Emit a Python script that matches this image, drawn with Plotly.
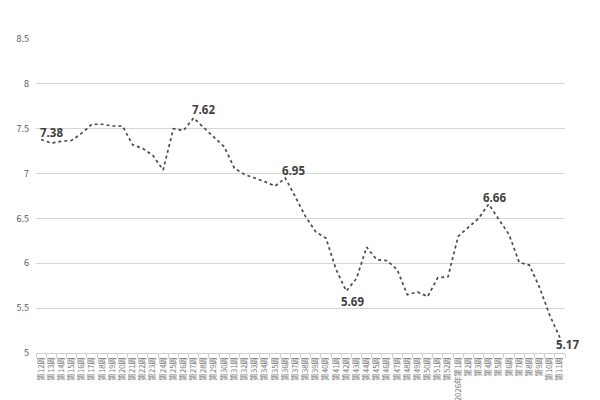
import plotly.graph_objects as go

weeks = [f"第{i}周" for i in range(12, 53)] + ["2026年第1周"] + [f"第{i}周" for i in range(2, 12)]
prices = [7.38, 7.34, 7.36, 7.37, 7.45, 7.55, 7.55, 7.53, 7.53, 7.32,
          7.28, 7.20, 7.04, 7.50, 7.48, 7.62, 7.51, 7.40, 7.30, 7.06,
          6.99, 6.95, 6.91, 6.86, 6.95, 6.74, 6.52, 6.35, 6.28, 5.93,
          5.69, 5.83, 6.18, 6.04, 6.03, 5.93, 5.65, 5.68, 5.63, 5.84,
          5.85, 6.30, 6.40, 6.50, 6.66, 6.49, 6.32, 6.01, 5.98, 5.73,
          5.42, 5.17]
label_idx = [0, 15, 24, 30, 44, 51]
label_dx = [10, 10, 8, 6, 6, 8]
label_dy = [7, 8, 8, -10, 7, -7]

fig = go.Figure()
fig.add_trace(go.Scatter(
    x=weeks, y=prices, mode="lines",
    line=dict(color="#4a4a4a", width=1.7, dash="dot"),
    hoverinfo="skip", showlegend=False))

for i, dx, dy in zip(label_idx, label_dx, label_dy):
    fig.add_annotation(x=weeks[i], y=prices[i], text=f"{prices[i]:.2f}",
                       showarrow=False, xshift=dx, yshift=dy,
                       font=dict(family="Open Sans", size=11.5, color="#404040", weight="bold"))

fig.update_layout(
    width=600, height=400,
    margin=dict(l=36, r=35, t=39, b=47),
    paper_bgcolor="white", plot_bgcolor="white",
    font=dict(family="Noto Sans CJK SC", color="#595959"),
    xaxis=dict(type="category", tickangle=-90, tickfont=dict(size=7.6, color="#777777"),
               showgrid=False, showline=True, linecolor="#d0d0d0", linewidth=1,
               ticks="outside", ticklen=4, tickcolor="#d0d0d0", tickson="boundaries",
               range=[-0.5, len(weeks) - 0.5], automargin=False),
    yaxis=dict(range=[5, 8.5], tickvals=[5, 5.5, 6, 6.5, 7, 7.5, 8, 8.5],
               ticktext=["5", "5.5", "6", "6.5", "7", "7.5", "8", "8.5"],
               tickfont=dict(size=9, color="#595959"),
               showgrid=True, gridcolor="#d4d4d4", gridwidth=1, zeroline=False,
               showline=False, ticks="", ticklabelstandoff=6, automargin=False),
)
fig.write_html("out.html", config={"displayModeBar": False},
               post_script="document.body.style.margin='0';")
